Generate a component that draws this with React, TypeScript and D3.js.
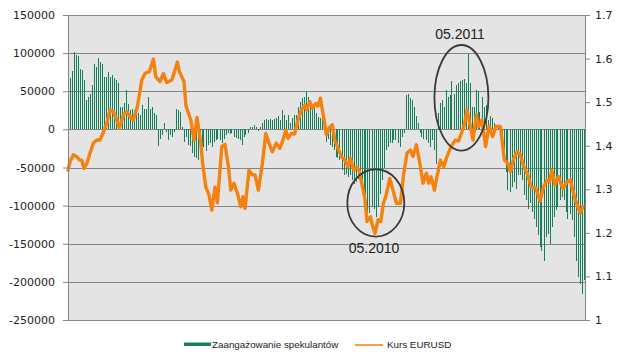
import React, { useEffect, useRef } from 'react';
import * as d3 from 'd3';

const W = 632;
const H = 361;

const leftTicks = [150000, 100000, 50000, 0, -50000, -100000, -150000, -200000, -250000];
const rightTicks = [1, 1.1, 1.2, 1.3, 1.4, 1.5, 1.6, 1.7];
const seriesNames = ['Zaangażowanie spekulantów', 'Kurs EURUSD'];

// weekly net positions of speculators
const positions = [
  47000, 67000, 77000, 102000, 98000, 96000, 79000, 78000, 65000, 38000,
  42000, 47000, 58000, 86000, 82000, 93000, 89000, 86000, 69000, 69000,
  75000, 69000, 71000, 68000, 65000, 61000, 30000, 30000, 34000, 52000,
  33000, 25000, 27000, 25000, 23000, 21000, 19000, 32000, 27000, 27000,
  43000, 27000, 30000, 21000, 19000, -22000, -12000, -7000, 8000, -3000,
  -14000, -7000, -10000,
  -4000, 27000, 25000, 23000, 3000, -16000, -10000, -20000, -22000, -31000,
  -36000, -38000, -40000, -29000, -25000, -23000, -29000, -21000, -18000,
  -23000, -16000, -14000, -13000, -14000, -18000, -12000, -7000, -5000, -6000,
  -5000, -10000, -11000, -12000, -14000, -21000, -10000, -7000, -5000, 3000,
  3000, 6000, 3000, -2000, 3000, 9000, 12000, 14000, 12000, 14000,
  12000, 14000,
  14500, 17500, 12300, 25000, 19000, 12300, 19000, 8000, 14500, 19000,
  19000, 30000, 36000, 41000, 43000, 50500, 43000, 34000, 25000, 28000,
  21000, 16700, 14500, 16700, 8000, -16000, -12000, -20600, -23000, -27000,
  -36000, -38000, -40000, -53500, -60000, -58000, -62000, -60000, -66700, -71000,
  -69000, -64500, -66700, -75500, -84000, -93000, -108000, -110000, -102000, -104000,
  -115000, -102000,
  -85000, -67000, -50000, -27000, -23000, -18000, -18000, -14000, -14000, -18000,
  -23000, -10000, -5000, 45000, 47000, 41000, 39000, 30000, 17000, 8000,
  -5000, -10000, -12000, -14000, -18000, -23000, -14000, -27000, -45000, 21000,
  34000, 39000, 30000, 52000, 43000, 45000, 63000, 47000, 58000, 61000,
  63000, 65000, 66000, 61000, 99000, 61000, 30000, 30000, 52000, 50000,
  23000, 43000, 30000, 32000, 12000, 17000, 15000, 8000, 6000, 3000,
  2000,
  -20000, -32000, -56000, -80000, -82000, -75000, -69000, -78000, -60000, -60000,
  -67000, -86000, -92000, -104000, -97000, -108000, -117000, -128000, -139000, -154000,
  -159000, -172000, -141000, -137000, -150000, -128000, -115000, -106000, -102000, -93000,
  -89000, -93000, -108000, -117000, -111000, -119000, -141000, -172000, -194000, -203000,
  -216000, -198000,
];

// EURUSD: position on the week axis and rate
const eurWeek = [
  0.0, 1.0, 2.7, 4.4, 5.7, 6.9, 8.0, 9.5, 11.0, 12.7,
  14.4, 16.0, 17.7, 19.4, 21.0, 22.7, 24.4, 25.7, 27.7, 29.4,
  31.0, 32.7, 34.7, 36.9, 38.5, 40.7, 42.7, 43.9, 46.0, 47.7,
  49.4, 51.9, 53.5, 54.7, 55.7, 58.0, 59.0, 61.4, 63.0, 64.5,
  66.4, 67.3, 68.9, 70.5, 71.9, 73.5, 74.7, 76.9, 78.5, 80.2,
  81.4, 83.0, 84.7, 86.4, 87.5, 88.5, 90.5, 92.2, 93.5, 95.2,
  97.2, 98.9, 100.5, 102.2, 104.2, 105.9, 107.5, 108.9, 110.0, 111.7,
  113.3, 115.0, 116.7, 118.4, 119.3, 120.9, 122.2, 123.9, 125.0, 126.2,
  127.5, 129.2, 130.5, 132.2, 133.4, 135.0, 136.7, 138.4, 140.0, 141.2,
  142.9, 144.3, 145.5, 146.7, 148.4, 149.5, 151.2, 152.3, 153.5, 155.0,
  156.4, 157.7, 159.0, 160.9, 162.5, 164.2, 166.2, 167.9, 169.5, 171.2,
  172.5, 174.2, 175.9, 177.5, 179.2, 180.4, 181.5, 183.2, 184.5, 186.2,
  187.9, 189.5, 191.5, 193.7, 195.3, 197.0, 198.2, 199.5, 200.9, 202.5,
  204.2, 205.4, 207.0, 208.8, 210.5, 212.3, 214.0, 216.2, 218.2, 219.9,
  221.2, 222.9, 224.5, 226.2, 227.9, 229.9, 231.5, 234.0, 236.0, 237.8,
  239.5, 240.8, 241.9, 243.5, 245.2, 247.4, 249.5, 251.2, 253.2, 254.9,
  256.2, 257.4,
];
const eurusd = [
  1.344, 1.363, 1.379, 1.375, 1.367, 1.367, 1.348, 1.360, 1.383, 1.406,
  1.413, 1.413, 1.431, 1.452, 1.482, 1.478, 1.459, 1.440, 1.471, 1.478,
  1.467, 1.459, 1.490, 1.551, 1.566, 1.570, 1.599, 1.558, 1.547, 1.566,
  1.545, 1.551, 1.574, 1.592, 1.570, 1.547, 1.491, 1.459, 1.413, 1.465,
  1.406, 1.360, 1.305, 1.287, 1.252, 1.305, 1.269, 1.398, 1.403, 1.352,
  1.298, 1.314, 1.291, 1.260, 1.283, 1.256, 1.344, 1.333, 1.333, 1.298,
  1.360, 1.428, 1.406, 1.386, 1.406, 1.394, 1.413, 1.436, 1.417, 1.428,
  1.427, 1.459, 1.482, 1.493, 1.482, 1.501, 1.486, 1.497, 1.491, 1.509,
  1.474, 1.425, 1.440, 1.448, 1.413, 1.394, 1.375, 1.367, 1.352, 1.371,
  1.344, 1.351, 1.344, 1.317, 1.280, 1.226, 1.237, 1.216, 1.199, 1.230,
  1.226, 1.268, 1.285, 1.325, 1.298, 1.268, 1.268, 1.337, 1.383, 1.390,
  1.375, 1.402, 1.360, 1.314, 1.337, 1.314, 1.329, 1.298, 1.329, 1.367,
  1.352, 1.375, 1.398, 1.413, 1.411, 1.432, 1.448, 1.482, 1.451, 1.413,
  1.471, 1.444, 1.459, 1.398, 1.445, 1.421, 1.444, 1.444, 1.367, 1.360,
  1.340, 1.371, 1.386, 1.379, 1.352, 1.333, 1.306, 1.302, 1.273, 1.306,
  1.321, 1.317, 1.344, 1.310, 1.329, 1.302, 1.317, 1.321, 1.283, 1.260,
  1.245, 1.260,
];

const annotationLabels = ['05.2010', '05.2011'];
const annotationWeek = [153.9, 196.7];
const annotationValue = [-96500, 41400];
const labelWeek = [153.0, 196.0];
const labelValue = [-162000, 118600];

const M = { left: 68, right: 585, top: 15, bottom: 320 };
const GREEN = '#15805a';
const ORANGE = '#f5820f';

export default function App() {
  const leftRef = useRef<SVGGElement>(null);
  const rightRef = useRef<SVGGElement>(null);

  const N = positions.length;
  // two pixels per week
  const x = d3.scaleLinear().domain([0, N]).range([M.left, M.left + 2 * N]);
  const yL = d3.scaleLinear().domain([-250000, 150000]).range([M.bottom, M.top]);
  const yR = d3.scaleLinear().domain([1, 1.7]).range([M.bottom, M.top]);

  const linePts = eurWeek.map((w, i) => [w, eurusd[i]] as [number, number]);
  const line = d3
    .line<[number, number]>()
    .x((d) => x(d[0]))
    .y((d) => yR(d[1]));

  useEffect(() => {
    const style = (g: any) => {
      g.select('.domain').attr('stroke', '#868686');
      g.selectAll('.tick line').attr('stroke', '#868686');
      g.selectAll('.tick text')
        .attr('fill', '#222')
        .style('font-family', 'DejaVu Sans')
        .style('font-size', '11px');
    };
    if (leftRef.current) {
      const g = d3.select(leftRef.current);
      g.selectAll('*').remove();
      g.call(
        d3.axisLeft(yL).tickValues(leftTicks).tickSize(5).tickPadding(8).tickFormat((d) => String(d))
      );
      style(g);
    }
    if (rightRef.current) {
      const g = d3.select(rightRef.current);
      g.selectAll('*').remove();
      g.call(
        d3
          .axisRight(yR)
          .tickValues(rightTicks)
          .tickSize(5)
          .tickPadding(5)
          .tickFormat((d) => d3.format('~g')(d as number))
      );
      style(g);
    }
  });

  return (
    <svg
      width={W}
      height={H}
      style={{ position: 'absolute', left: 0, top: 0, background: '#fff' }}
    >
      <rect x={M.left} y={M.top} width={M.right - M.left} height={M.bottom - M.top} fill="#e4e4e4" />
      {leftTicks.map((t) => (
        <line
          key={t}
          x1={M.left}
          x2={M.right}
          y1={Math.round(yL(t)) + 0.5}
          y2={Math.round(yL(t)) + 0.5}
          stroke="#858585"
          strokeWidth={1}
        />
      ))}
      <g shapeRendering="crispEdges">
        {positions.map((v, i) => {
          const y0 = yL(0);
          const y1 = yL(v);
          return (
            <rect
              key={i}
              x={Math.floor(x(i))}
              width={1}
              y={Math.min(y0, y1)}
              height={Math.abs(y1 - y0)}
              fill={GREEN}
            />
          );
        })}
      </g>
      <path
        d={line(linePts) || ''}
        fill="none"
        stroke={ORANGE}
        strokeWidth={3.4}
        strokeLinejoin="round"
        strokeLinecap="round"
      />
      {annotationWeek.map((w, i) => (
        <ellipse
          key={'e' + i}
          cx={x(w)}
          cy={yL(annotationValue[i])}
          rx={i === 0 ? 28.5 : 27}
          ry={i === 0 ? 33.7 : 52.8}
          fill="none"
          stroke="#3a3a3a"
          strokeWidth={1.8}
        />
      ))}
      {annotationLabels.map((t, i) => (
        <text
          key={'l' + i}
          x={x(labelWeek[i])}
          y={yL(labelValue[i])}
          textAnchor="middle"
          fontFamily="Liberation Sans"
          fontSize={14}
          fill="#222"
        >
          {t}
        </text>
      ))}
      <g ref={leftRef} transform={`translate(${M.left},0)`} />
      <g ref={rightRef} transform={`translate(${M.right},0)`} />
      <g fontFamily="Liberation Sans" fontSize={9.8} fill="#222">
        <rect x={184} y={342.5} width={27} height={3.5} fill={GREEN} />
        <text x={212} y={347.5}>{seriesNames[0]}</text>
        <line x1={355} x2={383} y1={345} y2={345} stroke={ORANGE} strokeWidth={1.5} />
        <text x={387} y={347.5}>{seriesNames[1]}</text>
      </g>
    </svg>
  );
}
